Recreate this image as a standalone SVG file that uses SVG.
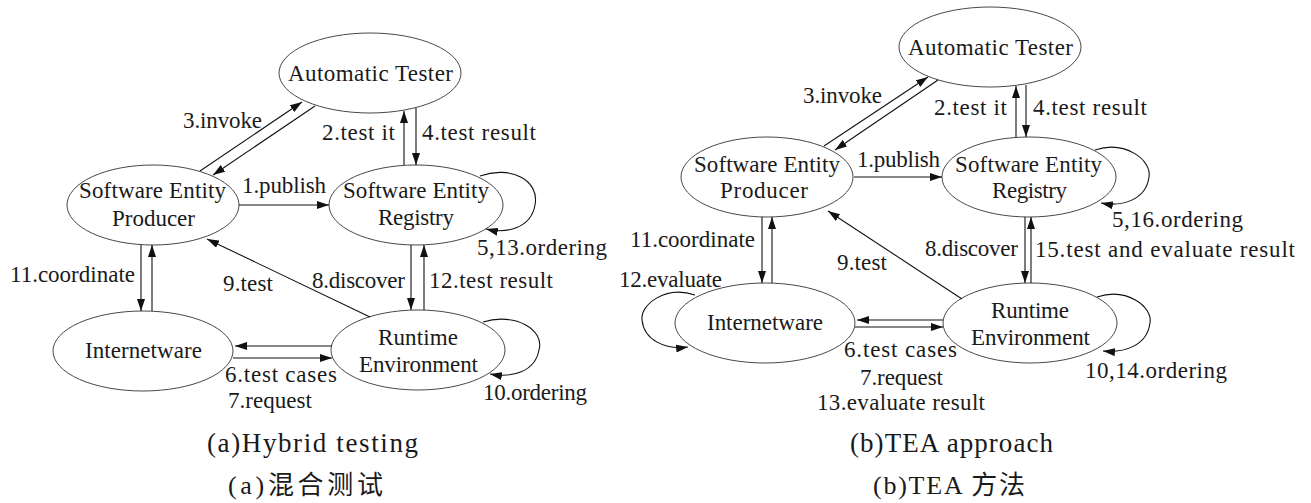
<svg xmlns="http://www.w3.org/2000/svg" width="1311" height="503" viewBox="0 0 1311 503" font-family="Liberation Serif, Times New Roman, DejaVu Serif, serif">
<style>
  .node ellipse { fill: #ffffff; stroke: #333333; stroke-width: 0.9; }
  text { font-size: 23px; fill: #1a1a1a; }
  .cap { font-size: 27px; }
  .capzh { font-size: 26px; }
  .edge { fill: none; stroke: #111111; stroke-width: 1.1; }
  .arr { marker-end: url(#ah); }
</style>
<defs>
  <marker id="ah" viewBox="0 0 12 8" refX="12" refY="4" markerWidth="12" markerHeight="8" markerUnits="userSpaceOnUse" orient="auto">
    <path d="M0,0 L12,4 L0,8 z" fill="#111111"/>
  </marker>
</defs>
<rect width="1311" height="503" fill="#ffffff"/>

<!-- (a) Hybrid testing nodes -->
<g id="a-tester" class="node">
  <ellipse cx="370" cy="73" rx="91" ry="40"/>
  <text x="288" y="81" textLength="165" lengthAdjust="spacing">Automatic Tester</text>
</g>
<g id="a-producer" class="node">
  <ellipse cx="153" cy="205" rx="86" ry="40"/>
  <text x="79" y="198" textLength="147" lengthAdjust="spacing">Software Entity</text>
  <text x="112" y="226" textLength="83" lengthAdjust="spacing">Producer</text>
</g>
<g id="a-registry" class="node">
  <ellipse cx="416" cy="205" rx="87" ry="40"/>
  <text x="343" y="198" textLength="146" lengthAdjust="spacing">Software Entity</text>
  <text x="378" y="225" textLength="76" lengthAdjust="spacing">Registry</text>
</g>
<g id="a-internetware" class="node">
  <ellipse cx="143" cy="351" rx="90" ry="40"/>
  <text x="85" y="358" textLength="117" lengthAdjust="spacing">Internetware</text>
</g>
<g id="a-runtime" class="node">
  <ellipse cx="418" cy="350" rx="87" ry="40"/>
  <text x="378" y="345" textLength="80" lengthAdjust="spacing">Runtime</text>
  <text x="359" y="372" textLength="119" lengthAdjust="spacing">Environment</text>
</g>

<!-- (b) TEA approach nodes -->
<g id="b-tester" class="node">
  <ellipse cx="990" cy="47" rx="91" ry="40"/>
  <text x="908" y="55" textLength="165" lengthAdjust="spacing">Automatic Tester</text>
</g>
<g id="b-producer" class="node">
  <ellipse cx="767" cy="177" rx="86" ry="40"/>
  <text x="694" y="172" textLength="146" lengthAdjust="spacing">Software Entity</text>
  <text x="720" y="198" textLength="88" lengthAdjust="spacing">Producer</text>
</g>
<g id="b-registry" class="node">
  <ellipse cx="1029" cy="177" rx="87" ry="40"/>
  <text x="955" y="172" textLength="147" lengthAdjust="spacing">Software Entity</text>
  <text x="992" y="198" textLength="75" lengthAdjust="spacing">Registry</text>
</g>
<g id="b-internetware" class="node">
  <ellipse cx="765" cy="323" rx="90" ry="40"/>
  <text x="707" y="330" textLength="116" lengthAdjust="spacing">Internetware</text>
</g>
<g id="b-runtime" class="node">
  <ellipse cx="1030" cy="323" rx="87" ry="40"/>
  <text x="991" y="318" textLength="78" lengthAdjust="spacing">Runtime</text>
  <text x="971" y="345" textLength="119" lengthAdjust="spacing">Environment</text>
</g>

<!-- connectors -->
<g id="connectors">
  <!-- (a) -->
  <line class="edge arr" x1="200" y1="171" x2="302" y2="102"/>
  <line class="edge arr" x1="315" y1="106" x2="213" y2="175"/>
  <line class="edge arr" x1="239" y1="205" x2="329" y2="205"/>
  <line class="edge arr" x1="404" y1="165" x2="404" y2="111"/>
  <line class="edge arr" x1="416" y1="108" x2="416" y2="165"/>
  <line class="edge arr" x1="411" y1="245" x2="411" y2="310"/>
  <line class="edge arr" x1="424" y1="310" x2="424" y2="245"/>
  <line class="edge arr" x1="370" y1="317" x2="207" y2="239"/>
  <line class="edge arr" x1="141" y1="245" x2="141" y2="311"/>
  <line class="edge arr" x1="152" y1="311" x2="152" y2="245"/>
  <line class="edge arr" x1="332" y1="346" x2="235" y2="346"/>
  <line class="edge arr" x1="233" y1="358" x2="332" y2="358"/>
  <path class="edge arr" d="M480,176 C510,165 540,180 535,205 C531,228 507,234 486,229"/>
  <path class="edge arr" d="M483,322 C515,312 545,330 539,350 C535,372 512,378 490,374"/>
  <!-- (b) -->
  <line class="edge arr" x1="824" y1="146" x2="928" y2="77"/>
  <line class="edge arr" x1="938" y1="80" x2="835" y2="150"/>
  <line class="edge arr" x1="854" y1="177" x2="942" y2="177"/>
  <line class="edge arr" x1="1016" y1="137" x2="1016" y2="86"/>
  <line class="edge arr" x1="1026" y1="85" x2="1026" y2="137"/>
  <line class="edge arr" x1="1025" y1="217" x2="1025" y2="283"/>
  <line class="edge arr" x1="1031" y1="283" x2="1031" y2="217"/>
  <line class="edge arr" x1="962" y1="299" x2="828" y2="211"/>
  <line class="edge arr" x1="762" y1="217" x2="762" y2="283"/>
  <line class="edge arr" x1="772" y1="283" x2="772" y2="217"/>
  <line class="edge arr" x1="943" y1="320" x2="857" y2="320"/>
  <line class="edge arr" x1="855" y1="327" x2="943" y2="327"/>
  <path class="edge arr" d="M1095,150 C1125,140 1152,160 1149,177 C1146,200 1122,207 1101,203"/>
  <path class="edge arr" d="M1097,297 C1127,287 1153,307 1150,323 C1147,346 1124,353 1103,351"/>
  <path class="edge arr" d="M695,295 C665,285 640,305 642,320 C644,340 665,350 688,347"/>
</g>

<!-- connector labels -->
<g id="labels">
  <!-- (a) -->
  <text x="183" y="128" textLength="79" lengthAdjust="spacing">3.invoke</text>
  <text x="242" y="193" textLength="84" lengthAdjust="spacing">1.publish</text>
  <text x="322" y="140" textLength="73" lengthAdjust="spacing">2.test it</text>
  <text x="422" y="140" textLength="114" lengthAdjust="spacing">4.test result</text>
  <text x="477" y="255" textLength="130" lengthAdjust="spacing">5,13.ordering</text>
  <text x="312" y="288" textLength="93" lengthAdjust="spacing">8.discover</text>
  <text x="429" y="288" textLength="124" lengthAdjust="spacing">12.test result</text>
  <text x="223" y="291" textLength="50" lengthAdjust="spacing">9.test</text>
  <text x="10" y="282" textLength="125" lengthAdjust="spacing">11.coordinate</text>
  <text x="225" y="382" textLength="112" lengthAdjust="spacing">6.test cases</text>
  <text x="228" y="408" textLength="84" lengthAdjust="spacing">7.request</text>
  <text x="483" y="400" textLength="104" lengthAdjust="spacing">10.ordering</text>
  <text class="cap" x="207" y="452" textLength="211" lengthAdjust="spacing">(a)Hybrid testing</text>
  <text class="capzh" x="228" y="494" textLength="155" lengthAdjust="spacing" font-family="Liberation Serif, Noto Sans CJK SC, serif">(a)混合测试</text>
  <!-- (b) -->
  <text x="803" y="103" textLength="79" lengthAdjust="spacing">3.invoke</text>
  <text x="857" y="167" textLength="83" lengthAdjust="spacing">1.publish</text>
  <text x="934" y="115" textLength="73" lengthAdjust="spacing">2.test it</text>
  <text x="1033" y="115" textLength="114" lengthAdjust="spacing">4.test result</text>
  <text x="1112" y="227" textLength="131" lengthAdjust="spacing">5,16.ordering</text>
  <text x="630" y="247" textLength="125" lengthAdjust="spacing">11.coordinate</text>
  <text x="619" y="287" textLength="103" lengthAdjust="spacing">12.evaluate</text>
  <text x="837" y="270" textLength="50" lengthAdjust="spacing">9.test</text>
  <text x="925" y="256" textLength="93" lengthAdjust="spacing">8.discover</text>
  <text x="1035" y="257" textLength="260" lengthAdjust="spacing">15.test and evaluate result</text>
  <text x="1085" y="378" textLength="142" lengthAdjust="spacing">10,14.ordering</text>
  <text x="844" y="357" textLength="113" lengthAdjust="spacing">6.test cases</text>
  <text x="860" y="385" textLength="83" lengthAdjust="spacing">7.request</text>
  <text x="817" y="410" textLength="168" lengthAdjust="spacing">13.evaluate result</text>
  <text class="cap" x="850" y="452" textLength="203" lengthAdjust="spacing">(b)TEA approach</text>
  <text class="capzh" x="873" y="494" textLength="152" lengthAdjust="spacing" font-family="Liberation Serif, Noto Sans CJK SC, serif">(b)TEA 方法</text>
</g>
</svg>
